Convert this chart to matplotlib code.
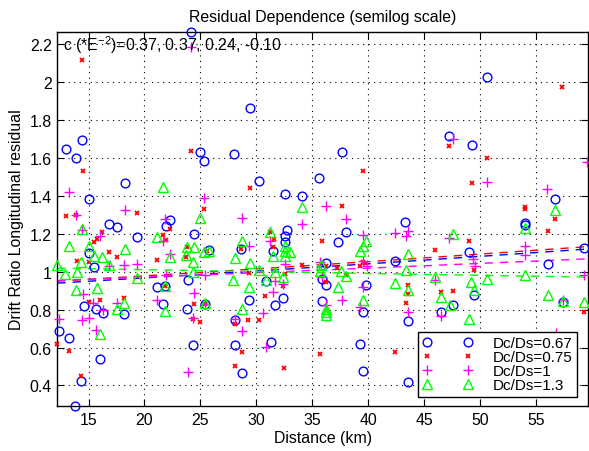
import numpy as np
import matplotlib
matplotlib.use("Agg")
import matplotlib.pyplot as plt
from matplotlib.ticker import FuncFormatter

plt.rcParams['font.family'] = ['Liberation Sans', 'DejaVu Sans']
plt.rcParams['mathtext.default'] = 'regular'

# ---------------- data ----------------
labels = ["Dc/Ds=0.67", "Dc/Ds=0.75", "Dc/Ds=1", "Dc/Ds=1.3"]

x_067 = [24.12, 29.42, 12.96, 13.91, 14.42, 24.96, 25.34, 28.05, 18.26, 15.04, 30.25, 32.54, 16.8, 17.52, 22.28, 21.92,
         50.64, 47.25, 49.24, 37.63, 35.64, 34.12, 43.32, 56.74, 54.06, 54.06, 49.0, 56.06, 59.27, 49.5, 43.55, 47.57,
         46.53, 57.4, 43.55, 38.05, 37.3, 42.4, 36.27, 35.88, 36.27, 39.78, 35.88, 39.54, 39.24, 39.54, 32.7, 32.6,
         32.6, 31.5, 28.62, 24.42, 19.33, 15.04, 25.73, 15.46, 21.12, 21.8, 23.86, 14.57, 15.7, 16.27, 18.14, 21.65,
         23.8, 25.4, 12.34, 13.23, 16.0, 14.33, 13.82, 24.33, 28.1, 28.1, 30.85, 31.65, 32.4, 29.33, 28.73, 31.27]
y_067 = [2.267, 1.862, 1.647, 1.598, 1.693, 1.633, 1.586, 1.623, 1.466, 1.382, 1.480, 1.408, 1.25, 1.234, 1.274, 1.243,
         2.026, 1.718, 1.670, 1.633, 1.494, 1.401, 1.264, 1.385, 1.255, 1.246, 1.102, 1.041, 1.125, 0.877, 0.741, 0.824,
         0.789, 0.838, 0.420, 1.211, 1.155, 1.055, 1.046, 0.962, 0.930, 0.931, 0.847, 0.786, 0.618, 0.474, 1.220, 1.187,
         1.155, 1.109, 1.12, 1.197, 1.185, 1.099, 1.115, 1.023, 0.919, 0.926, 0.956, 0.821, 0.803, 0.782, 0.775, 0.83,
         0.803, 0.83, 0.689, 0.650, 0.539, 0.422, 0.293, 0.613, 0.743, 0.613, 0.951, 0.824, 0.860, 0.852, 0.464, 0.627]

x_075 = [14.42, 14.54, 24.12, 29.42, 25.34, 12.96, 13.91, 19.33, 57.37, 47.25, 50.64, 49.24, 39.54, 37.63, 56.74,
         54.06, 54.06, 56.06, 49.0, 45.97, 49.5, 43.55, 43.55, 43.41, 46.53, 47.57, 59.33, 35.88, 34.12, 36.27, 37.25,
         38.05, 39.54, 39.78, 39.24, 36.27, 35.67, 42.4, 31.6, 31.2, 31.5, 28.62, 22.26, 16.2, 15.76, 15.46, 21.65,
         21.95, 16.8, 17.54, 13.95, 23.8, 21.12, 23.73, 25.6, 15.02, 21.8, 15.02, 16.0, 18.14, 24.45, 25.4, 24.33, 24.98,
         12.19, 13.23, 14.33, 28.1, 30.82, 32.4, 32.54, 29.36, 28.14, 29.27, 30.25, 28.73, 32.46]
y_075 = [2.117, 1.530, 1.635, 1.442, 1.332, 1.292, 1.298, 1.311, 1.975, 1.665, 1.600, 1.466, 1.531, 1.347, 1.278,
         1.331, 1.343, 1.216, 1.160, 1.113, 1.009, 0.930, 0.882, 0.833, 0.894, 0.897, 0.786, 1.160, 1.037, 1.032, 1.018,
         0.983, 1.05, 1.044, 1.032, 0.944, 0.566, 0.575, 1.174, 1.21, 1.132, 1.12, 1.224, 1.208, 1.173, 1.158, 1.195,
         1.166, 1.102, 1.076, 1.058, 1.13, 1.063, 1.076, 1.109, 1.05, 0.926, 0.842, 0.852, 0.86, 0.828, 0.83, 0.75, 0.733,
         0.618, 0.583, 0.448, 0.504, 0.870, 0.923, 0.988, 0.993, 0.724, 0.745, 0.745, 0.575, 0.492]

x_1 = [24.12, 13.26, 25.34, 28.73, 13.91, 18.26, 21.8, 47.57, 50.64, 36.21, 38.02, 34.12, 56.03, 43.55, 43.41, 47.21,
       49.33, 49.54, 54.04, 54.04, 45.94, 59.33, 43.55, 46.53, 57.4, 56.8, 39.54, 42.4, 35.67, 39.54, 39.9, 35.88,
       39.54, 36.27, 37.66, 39.24, 31.2, 29.36, 32.54, 14.42, 16.0, 21.65, 22.25, 18.14, 19.33, 16.8, 21.92, 25.43,
       14.51, 24.39, 15.4, 16.27, 17.54, 21.12, 25.4, 14.42, 15.07, 24.33, 12.34, 15.7, 23.86, 31.65, 31.5, 32.4, 28.14,
       28.68, 30.6, 30.85, 59.6]
y_1 = [2.184, 1.422, 1.387, 1.283, 1.298, 1.326, 1.278, 1.700, 1.472, 1.345, 1.278, 1.25, 1.438, 1.213, 1.187, 1.178,
       1.065, 1.028, 1.137, 1.088, 0.958, 0.984, 0.789, 0.765, 0.85, 0.677, 1.195, 1.203, 1.05, 1.058, 1.03, 0.97,
       0.918, 0.826, 0.851, 0.812, 1.160, 1.136, 1.039, 1.222, 1.187, 1.160, 1.093, 1.037, 1.039, 1.03, 0.984, 0.984,
       0.882, 0.888, 0.835, 0.8, 0.835, 0.852, 0.83, 0.747, 0.756, 0.755, 0.75, 0.692, 0.469, 0.949, 0.891, 0.935, 0.75,
       0.689, 0.780, 0.604, 1.58]

x_13 = [21.62, 24.96, 34.12, 56.74, 54.06, 47.57, 43.55, 45.94, 49.2, 50.64, 54.06, 49.5, 43.55, 46.53, 47.28, 49.0,
        56.06, 57.4, 59.27, 39.78, 39.54, 39.24, 35.82, 35.67, 37.6, 38.05, 43.35, 42.4, 37.3, 39.54, 36.27, 36.27,
        36.27, 33.0, 31.2, 32.6, 32.6, 32.6, 31.5, 28.73, 28.1, 29.42, 30.25, 14.42, 21.12, 13.23, 15.04, 18.23, 15.46,
        16.2, 14.33, 16.8, 12.2, 23.8, 24.39, 22.25, 23.73, 25.73, 25.3, 24.33, 12.93, 13.97, 19.33, 24.3, 27.96, 21.8,
        13.88, 15.76, 18.14, 17.54, 21.8, 25.37, 16.0, 30.85, 32.4, 31.65, 29.33, 28.68]
y_13 = [1.445, 1.283, 1.341, 1.324, 1.231, 1.197, 1.093, 0.970, 0.947, 0.962, 0.984, 0.905, 0.905, 0.868, 0.824, 0.750,
        0.877, 0.847, 0.838, 1.160, 1.137, 1.111, 1.035, 1.002, 1.002, 0.98, 1.011, 0.940, 0.918, 0.852, 0.803, 0.79,
        0.773, 1.102, 1.211, 1.137, 1.111, 1.085, 1.081, 1.164, 1.071, 1.044, 1.01, 1.225, 1.183, 1.137, 1.134, 1.121,
        1.081, 1.078, 1.053, 1.037, 1.037, 1.130, 1.130, 1.076, 1.090, 1.11, 1.104, 1.05, 0.988, 1.0, 0.965, 0.997,
        0.958, 0.926, 0.903, 0.912, 0.835, 0.803, 0.791, 0.835, 0.671, 0.955, 0.970, 0.997, 0.918, 0.803]

# semilog fits: ln(y) = a + c*x   (c in units of 1e-2 per km)
fit_c = [0.37, 0.37, 0.24, -0.10]
fit_a = [-0.107, -0.096, -0.077, 0.031]

xlim = (12.21, 59.69)
ylim = (0.290, 2.267)
xticks = [15, 20, 25, 30, 35, 40, 45, 50, 55]
yticks = [0.4, 0.6, 0.8, 1.0, 1.2, 1.4, 1.6, 1.8, 2.0, 2.2]

# ---------------- plot ----------------
FS = 11.4
fig = plt.figure(figsize=(5.89, 4.52), dpi=100)
ax = fig.add_axes([0.0973, 0.0989, 0.9017, 0.8288])

xs = [x_067, x_075, x_1, x_13]
ys = [y_067, y_075, y_1, y_13]
colors = ['#0000ff', '#ff0000', '#ff00ff', '#00ff00']
markers = ['o', 'x', '+', '^']
msizes = [6.3, 3.4, 7.0, 7.0]
mews = [1.0, 1.3, 1.0, 1.0]

handles = []
for x, y, c, m, ms, mw, lab in zip(xs, ys, colors, markers, msizes, mews, labels):
    h, = ax.plot(x, y, linestyle='none', marker=m, markersize=ms, markeredgewidth=mw,
                 markerfacecolor='none', markeredgecolor=c, label=lab, clip_on=False, zorder=3)
    handles.append(h)

xl = np.linspace(xlim[0], xlim[1], 200)
for a, cc, c in zip(fit_a, fit_c, colors):
    ax.plot(xl, np.exp(a + cc * 1e-2 * xl), color=c, linestyle=(0, (6, 5)), linewidth=1.0, zorder=2)

ax.set_xlim(*xlim)
ax.set_ylim(*ylim)
ax.set_xticks(xticks)
ax.set_yticks(yticks)
ax.yaxis.set_major_formatter(FuncFormatter(lambda v, p: ('%g' % round(v, 2))))
ax.grid(True, linestyle=(0, (1, 4)), color='black', linewidth=0.8)
ax.tick_params(direction='in', top=True, right=True, length=5, width=0.8,
               labelsize=FS, pad=4)
for s in ax.spines.values():
    s.set_linewidth(1.0)

ax.set_title("Residual Dependence (semilog scale)", fontsize=FS, pad=8)
ax.set_xlabel("Distance (km)", fontsize=FS, labelpad=2)
ax.set_ylabel("Drift Ratio Longitudinal residual", fontsize=FS, labelpad=4)

ax.text(12.72, 2.2, "c (*E$^{-2}$)=%.2f, %.2f, %.2f, %.2f" % tuple(fit_c),
        fontsize=FS, va='center', ha='left', zorder=4)

leg = ax.legend(handles=handles, loc='lower right', bbox_to_anchor=(0.979, 0.0248),
                numpoints=2, handlelength=3.3, handletextpad=1.3, borderpad=0.3,
                labelspacing=0.0, borderaxespad=0, fontsize=11, frameon=True,
                fancybox=False, edgecolor='black', framealpha=1)
leg.get_frame().set_linewidth(1.0)

fig.savefig("out.png", dpi=100)
